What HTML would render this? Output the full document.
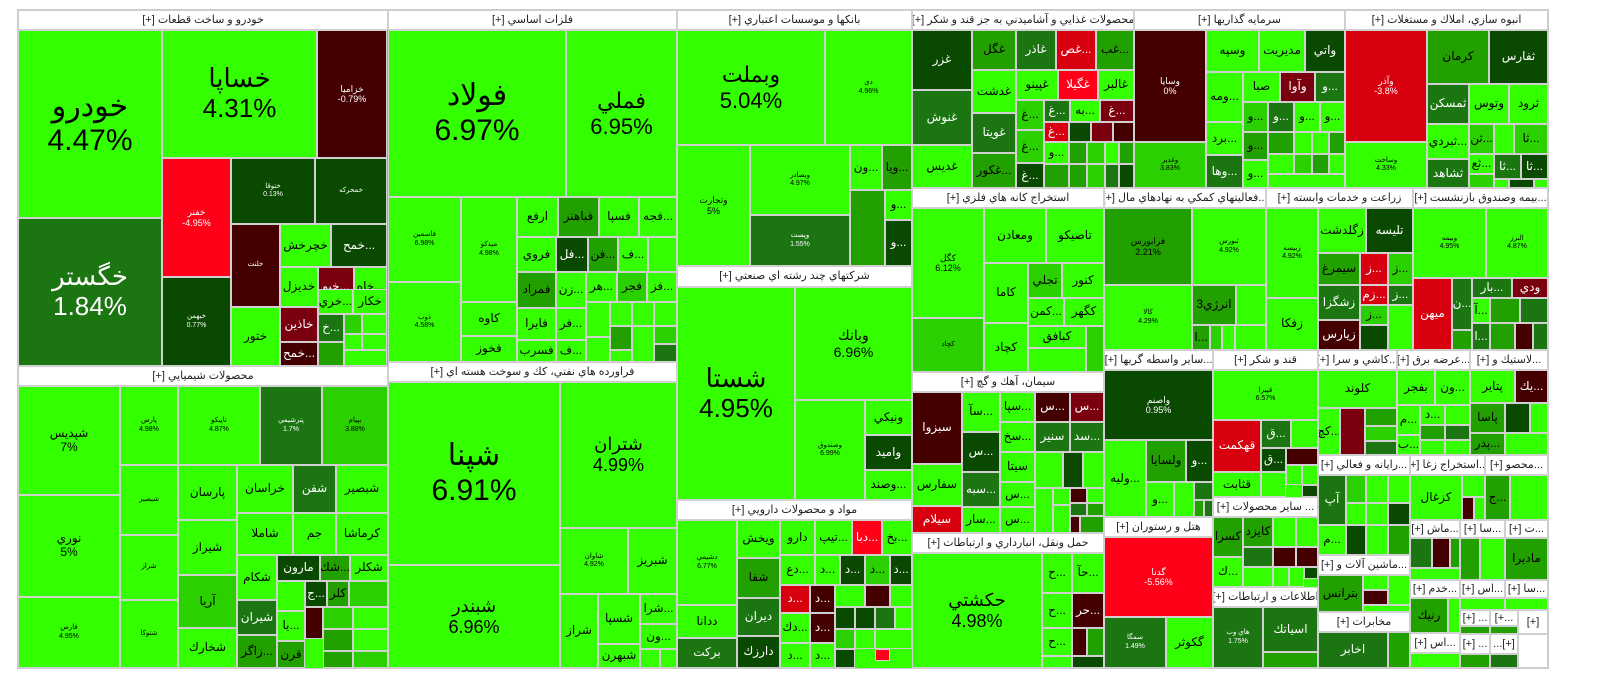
<!DOCTYPE html>
<html><head><meta charset="utf-8"><style>
body{margin:0;width:1600px;height:698px;background:#fff;position:relative;overflow:hidden;font-family:"Liberation Sans","DejaVu Sans","Noto Sans CJK SC",sans-serif;direction:ltr}
.t{position:absolute;box-sizing:border-box;border:1px solid #d0d0d0;display:flex;align-items:center;justify-content:center;text-align:center;overflow:hidden;font-size:12px;line-height:1.15;white-space:nowrap;color:#000;direction:ltr}
.h{background:#fff;font-size:11px;color:#222;direction:rtl}
.g1{background:#33ff00}.g2{background:#2ad000}.g3{background:#22a000}.g4{background:#1b7510;color:#fff}.g5{background:#0a4a00;color:#fff}
.r1{background:#ff0018;color:#fff}.r2{background:#d8000f;color:#fff}.r3{background:#7a0010;color:#fff}.r4{background:#440000;color:#fff}
.tiny{font-size:7px}.sm{font-size:9px}
.b30{font-size:30px}.b26{font-size:26px}.b22{font-size:22px}.b18{font-size:18px}.b14{font-size:14px}
</style></head><body>
<div class="t" style="left:17px;top:9px;width:1532px;height:660px;border-color:#ccc;background:#33ff00"></div>

<!-- خودرو -->
<div class="t h" style="left:18px;top:10px;width:370px;height:20px">خودرو و ساخت قطعات [+]</div>
<div class="t g1 b30" style="left:18px;top:30px;width:144px;height:188px">خودرو<br>4.47%</div>
<div class="t g4 b26" style="left:18px;top:218px;width:144px;height:148px">خگستر<br>1.84%</div>
<div class="t g1 b26" style="left:162px;top:30px;width:155px;height:128px">خساپا<br>4.31%</div>
<div class="t r4 sm" style="left:317px;top:30px;width:70px;height:128px">خزامیا<br>-0.79%</div>
<div class="t r1 sm" style="left:162px;top:158px;width:69px;height:119px">خفنر<br>-4.95%</div>
<div class="t g5 tiny" style="left:231px;top:158px;width:84px;height:66px">ختوقا<br>0.13%</div>
<div class="t g5 tiny" style="left:315px;top:158px;width:72px;height:66px">خمحرکه</div>
<div class="t g5 tiny" style="left:162px;top:277px;width:69px;height:89px">خبهمن<br>0.77%</div>
<div class="t r4 tiny" style="left:231px;top:224px;width:49px;height:83px">خلنت</div>
<div class="t g1" style="left:280px;top:224px;width:51px;height:43px">خچرخش</div>
<div class="t g5" style="left:331px;top:224px;width:56px;height:43px">خمح...</div>
<div class="t g1" style="left:280px;top:267px;width:38px;height:40px">خديزل</div>
<div class="t r3" style="left:318px;top:267px;width:36px;height:40px">خبو...</div>
<div class="t g1" style="left:354px;top:267px;width:33px;height:40px">خاه...</div>
<div class="t g1" style="left:231px;top:307px;width:49px;height:59px">ختور</div>
<div class="t r3" style="left:280px;top:307px;width:38px;height:35px">خاذين</div>
<div class="t r4" style="left:280px;top:342px;width:38px;height:24px">خمح...</div>
<div class="t g1" style="left:318px;top:289px;width:35px;height:25px">خري...</div>
<div class="t g1" style="left:353px;top:289px;width:34px;height:25px">خكار</div>
<div class="t g4" style="left:318px;top:314px;width:26px;height:28px">خ...</div>
<div class="t g2" style="left:344px;top:314px;width:18px;height:20px"></div>
<div class="t g1" style="left:362px;top:314px;width:25px;height:20px"></div>
<div class="t g3" style="left:318px;top:342px;width:26px;height:24px"></div>
<div class="t g1" style="left:344px;top:334px;width:18px;height:16px"></div>
<div class="t g1" style="left:362px;top:334px;width:25px;height:16px"></div>
<div class="t g1" style="left:344px;top:350px;width:43px;height:16px"></div>

<!-- شیمیایی -->
<div class="t h" style="left:18px;top:366px;width:370px;height:20px">محصولات شيميايي [+]</div>
<div class="t g1" style="left:18px;top:386px;width:102px;height:109px">شپديس<br>7%</div>
<div class="t g1" style="left:18px;top:495px;width:102px;height:102px">نوري<br>5%</div>
<div class="t g1 tiny" style="left:18px;top:597px;width:102px;height:71px">فارس<br>4.95%</div>
<div class="t g1 tiny" style="left:120px;top:386px;width:58px;height:79px">پارس<br>4.98%</div>
<div class="t g1 tiny" style="left:178px;top:386px;width:82px;height:79px">تاپيكو<br>4.87%</div>
<div class="t g4 tiny" style="left:260px;top:386px;width:62px;height:79px">پترشيمي<br>1.7%</div>
<div class="t g2 tiny" style="left:322px;top:386px;width:66px;height:79px">بپیام<br>3.88%</div>
<div class="t g1 tiny" style="left:120px;top:465px;width:58px;height:70px">شبصير</div>
<div class="t g1 tiny" style="left:120px;top:535px;width:58px;height:65px">شراز</div>
<div class="t g1 tiny" style="left:120px;top:600px;width:58px;height:68px">شتوكا</div>
<div class="t g1" style="left:178px;top:465px;width:59px;height:55px">پارسان</div>
<div class="t g1" style="left:178px;top:520px;width:59px;height:55px">شيراز</div>
<div class="t g2" style="left:178px;top:575px;width:59px;height:53px">آريا</div>
<div class="t g1" style="left:178px;top:628px;width:59px;height:40px">شخارك</div>
<div class="t g1" style="left:237px;top:465px;width:56px;height:48px">خراسان</div>
<div class="t g4" style="left:293px;top:465px;width:43px;height:48px">شفن</div>
<div class="t g1" style="left:336px;top:465px;width:52px;height:48px">شبصير</div>
<div class="t g1" style="left:237px;top:513px;width:56px;height:42px">شاملا</div>
<div class="t g1" style="left:293px;top:513px;width:43px;height:42px">جم</div>
<div class="t g1" style="left:336px;top:513px;width:52px;height:42px">كرماشا</div>
<div class="t g1" style="left:237px;top:555px;width:40px;height:45px">شكام</div>
<div class="t g5" style="left:277px;top:555px;width:43px;height:26px">مارون</div>
<div class="t g3" style="left:320px;top:555px;width:30px;height:26px">شك...</div>
<div class="t g1" style="left:350px;top:555px;width:38px;height:26px">شكلر</div>
<div class="t g4" style="left:237px;top:600px;width:40px;height:35px">شيران</div>
<div class="t g3" style="left:237px;top:635px;width:40px;height:33px">زاگر...</div>
<div class="t g1" style="left:277px;top:581px;width:28px;height:30px"></div>
<div class="t g5" style="left:305px;top:581px;width:22px;height:26px">ج...</div>
<div class="t g3" style="left:327px;top:581px;width:22px;height:26px">كلر</div>
<div class="t g2" style="left:349px;top:581px;width:39px;height:26px"></div>
<div class="t g1" style="left:277px;top:611px;width:28px;height:30px">يا...</div>
<div class="t g3" style="left:277px;top:641px;width:28px;height:27px">قرن</div>
<div class="t r4" style="left:305px;top:607px;width:18px;height:32px"></div>
<div class="t g2" style="left:323px;top:607px;width:30px;height:22px"></div>
<div class="t g1" style="left:353px;top:607px;width:35px;height:22px"></div>
<div class="t g3" style="left:323px;top:629px;width:30px;height:22px"></div>
<div class="t g1" style="left:353px;top:629px;width:35px;height:22px"></div>
<div class="t g3" style="left:323px;top:651px;width:30px;height:17px"></div>
<div class="t g2" style="left:353px;top:651px;width:35px;height:17px"></div>

<!-- فلزات -->
<div class="t h" style="left:388px;top:10px;width:289px;height:20px">فلزات اساسي [+]</div>
<div class="t g1 b30" style="left:388px;top:30px;width:178px;height:167px">فولاد<br>6.97%</div>
<div class="t g1 b22" style="left:566px;top:30px;width:111px;height:167px">فملي<br>6.95%</div>
<div class="t g1 tiny" style="left:388px;top:197px;width:73px;height:85px">فاسمين<br>6.98%</div>
<div class="t g1 tiny" style="left:388px;top:282px;width:73px;height:80px">ذوب<br>4.58%</div>
<div class="t g1 tiny" style="left:461px;top:197px;width:56px;height:105px">ميدكو<br>4.98%</div>
<div class="t g1" style="left:461px;top:302px;width:56px;height:34px">كاوه</div>
<div class="t g1" style="left:461px;top:336px;width:56px;height:26px">فخوز</div>
<div class="t g1" style="left:517px;top:197px;width:41px;height:40px">ارفع</div>
<div class="t g3" style="left:558px;top:197px;width:41px;height:40px">فباهنر</div>
<div class="t g1" style="left:599px;top:197px;width:40px;height:40px">فسپا</div>
<div class="t g1" style="left:639px;top:197px;width:38px;height:40px">فجه...</div>
<div class="t g1" style="left:517px;top:237px;width:39px;height:35px">فروي</div>
<div class="t g5" style="left:556px;top:237px;width:32px;height:35px">فل...</div>
<div class="t g3" style="left:588px;top:237px;width:30px;height:35px">فن...</div>
<div class="t g1" style="left:618px;top:237px;width:30px;height:35px">ف...</div>
<div class="t g1" style="left:648px;top:237px;width:29px;height:35px"></div>
<div class="t g3" style="left:517px;top:272px;width:39px;height:36px">فمراد</div>
<div class="t g1" style="left:556px;top:272px;width:30px;height:36px">زن...</div>
<div class="t g1" style="left:586px;top:272px;width:31px;height:30px">هر...</div>
<div class="t g2" style="left:617px;top:272px;width:30px;height:30px">فجر</div>
<div class="t g1" style="left:647px;top:272px;width:30px;height:30px">فز...</div>
<div class="t g1" style="left:517px;top:308px;width:39px;height:32px">فايرا</div>
<div class="t g1" style="left:517px;top:340px;width:39px;height:22px">فسرب</div>
<div class="t g1" style="left:556px;top:308px;width:30px;height:32px">فر...</div>
<div class="t g1" style="left:556px;top:340px;width:30px;height:22px">ف...</div>
<div class="t g1" style="left:586px;top:302px;width:24px;height:35px"></div>
<div class="t g1" style="left:610px;top:302px;width:22px;height:24px"></div>
<div class="t g3" style="left:610px;top:326px;width:22px;height:24px"></div>
<div class="t g1" style="left:632px;top:302px;width:22px;height:24px"></div>
<div class="t g1" style="left:654px;top:302px;width:23px;height:24px"></div>
<div class="t g1" style="left:632px;top:326px;width:22px;height:36px"></div>
<div class="t g2" style="left:654px;top:326px;width:23px;height:18px"></div>
<div class="t g4" style="left:654px;top:344px;width:23px;height:18px"></div>
<div class="t g1" style="left:586px;top:337px;width:24px;height:25px"></div>
<div class="t g1" style="left:610px;top:350px;width:22px;height:12px"></div>

<!-- فراورده -->
<div class="t h" style="left:388px;top:362px;width:289px;height:20px">فراورده هاي نفتي، كك و سوخت هسته اي [+]</div>
<div class="t g1 b30" style="left:388px;top:382px;width:172px;height:183px">شپنا<br>6.91%</div>
<div class="t g1 b18" style="left:388px;top:565px;width:172px;height:103px">شبندر<br>6.96%</div>
<div class="t g1 b18" style="left:560px;top:382px;width:117px;height:146px">شتران<br>4.99%</div>
<div class="t g1 tiny" style="left:560px;top:528px;width:68px;height:66px">شاوان<br>4.92%</div>
<div class="t g1" style="left:628px;top:528px;width:49px;height:66px">شبريز</div>
<div class="t g1" style="left:560px;top:594px;width:38px;height:74px">شراز</div>
<div class="t g1" style="left:598px;top:594px;width:42px;height:50px">شسپا</div>
<div class="t g1" style="left:598px;top:644px;width:42px;height:24px">شبهرن</div>
<div class="t g1" style="left:640px;top:594px;width:37px;height:30px">شرا...</div>
<div class="t g1" style="left:640px;top:624px;width:37px;height:25px">ون...</div>
<div class="t g1" style="left:640px;top:649px;width:20px;height:19px"></div>
<div class="t g1" style="left:660px;top:649px;width:17px;height:19px"></div>

<!-- بانکها -->
<div class="t h" style="left:677px;top:10px;width:235px;height:20px">بانكها و موسسات اعتباري [+]</div>
<div class="t g1 b22" style="left:677px;top:30px;width:148px;height:115px">وبملت<br>5.04%</div>
<div class="t g1 tiny" style="left:825px;top:30px;width:87px;height:115px">دي<br>4.96%</div>
<div class="t g1 sm" style="left:677px;top:145px;width:73px;height:121px">وتجارت<br>5%</div>
<div class="t g1 tiny" style="left:750px;top:145px;width:100px;height:70px">وبصادر<br>4.97%</div>
<div class="t g4 tiny" style="left:750px;top:215px;width:100px;height:51px">وپست<br>1.55%</div>
<div class="t g1" style="left:850px;top:145px;width:32px;height:45px">ون...</div>
<div class="t g3" style="left:882px;top:145px;width:30px;height:45px">ويا...</div>
<div class="t g3" style="left:850px;top:190px;width:35px;height:76px"></div>
<div class="t g1" style="left:885px;top:190px;width:27px;height:30px">و...</div>
<div class="t g5" style="left:885px;top:220px;width:27px;height:46px">و...</div>

<!-- چند رشته -->
<div class="t h" style="left:677px;top:266px;width:235px;height:21px">شركتهاي چند رشته اي صنعتي [+]</div>
<div class="t g1 b26" style="left:677px;top:287px;width:118px;height:213px">شستا<br>4.95%</div>
<div class="t g1 b14" style="left:795px;top:287px;width:117px;height:113px">وبانك<br>6.96%</div>
<div class="t g1 tiny" style="left:795px;top:400px;width:70px;height:100px">وصندوق<br>6.99%</div>
<div class="t g1" style="left:865px;top:400px;width:47px;height:35px">ونيكي</div>
<div class="t g5" style="left:865px;top:435px;width:47px;height:35px">واميد</div>
<div class="t g1" style="left:865px;top:470px;width:47px;height:30px">وصند...</div>

<!-- دارویی -->
<div class="t h" style="left:677px;top:500px;width:235px;height:20px">مواد و محصولات دارويي [+]</div>
<div class="t g1 tiny" style="left:677px;top:520px;width:60px;height:85px">دشيمي<br>6.77%</div>
<div class="t g1" style="left:677px;top:605px;width:60px;height:33px">ددانا</div>
<div class="t g4" style="left:677px;top:638px;width:60px;height:30px">بركت</div>
<div class="t g1" style="left:737px;top:520px;width:43px;height:38px">ويخش</div>
<div class="t g3" style="left:737px;top:558px;width:43px;height:40px">شفا</div>
<div class="t g4" style="left:737px;top:598px;width:43px;height:38px">ديران</div>
<div class="t g5" style="left:737px;top:636px;width:43px;height:32px">دارزك</div>
<div class="t g1" style="left:780px;top:520px;width:35px;height:35px">دارو</div>
<div class="t g1" style="left:815px;top:520px;width:37px;height:35px">تيپ...</div>
<div class="t r1" style="left:852px;top:520px;width:30px;height:35px">دبا...</div>
<div class="t g1" style="left:882px;top:520px;width:30px;height:35px">بخ...</div>
<div class="t g1" style="left:780px;top:555px;width:35px;height:30px">دع...</div>
<div class="t g1" style="left:815px;top:555px;width:25px;height:30px">د...</div>
<div class="t g5" style="left:840px;top:555px;width:25px;height:30px">د...</div>
<div class="t g2" style="left:865px;top:555px;width:25px;height:30px">د...</div>
<div class="t g5" style="left:890px;top:555px;width:22px;height:30px">د...</div>
<div class="t r2" style="left:780px;top:585px;width:30px;height:28px">د...</div>
<div class="t r4" style="left:810px;top:585px;width:25px;height:28px">د...</div>
<div class="t g1" style="left:835px;top:585px;width:30px;height:22px"></div>
<div class="t r4" style="left:865px;top:585px;width:25px;height:22px"></div>
<div class="t g1" style="left:890px;top:585px;width:22px;height:22px"></div>
<div class="t g1" style="left:780px;top:613px;width:30px;height:30px">دك...</div>
<div class="t r4" style="left:810px;top:613px;width:25px;height:30px">د...</div>
<div class="t g5" style="left:835px;top:607px;width:20px;height:22px"></div>
<div class="t g5" style="left:855px;top:607px;width:20px;height:22px"></div>
<div class="t g4" style="left:875px;top:607px;width:20px;height:22px"></div>
<div class="t g1" style="left:895px;top:607px;width:17px;height:22px"></div>
<div class="t g2" style="left:835px;top:629px;width:20px;height:20px"></div>
<div class="t g1" style="left:855px;top:629px;width:20px;height:20px"></div>
<div class="t g1" style="left:875px;top:629px;width:37px;height:20px"></div>
<div class="t g5" style="left:835px;top:649px;width:20px;height:19px"></div>
<div class="t r1" style="left:875px;top:649px;width:15px;height:12px"></div>
<div class="t g1" style="left:780px;top:643px;width:30px;height:25px">د...</div>
<div class="t g1" style="left:810px;top:643px;width:25px;height:25px">د...</div>

<!-- غذایی -->
<div class="t h" style="left:912px;top:10px;width:222px;height:20px">محصولات غذايي و آشاميدني به جز قند و شكر [+]</div>
<div class="t g5" style="left:912px;top:30px;width:60px;height:60px">غزر</div>
<div class="t g4" style="left:912px;top:90px;width:60px;height:55px">غنوش</div>
<div class="t g1" style="left:912px;top:145px;width:60px;height:43px">غديس</div>
<div class="t g3" style="left:972px;top:30px;width:44px;height:40px">غگل</div>
<div class="t g1" style="left:972px;top:70px;width:44px;height:43px">غدشت</div>
<div class="t g4" style="left:972px;top:113px;width:44px;height:40px">غويتا</div>
<div class="t g3" style="left:972px;top:153px;width:44px;height:35px">غكور...</div>
<div class="t g4" style="left:1016px;top:30px;width:40px;height:40px">غاذر</div>
<div class="t r2" style="left:1056px;top:30px;width:40px;height:40px">غص...</div>
<div class="t g3" style="left:1096px;top:30px;width:38px;height:40px">غب...</div>
<div class="t g1" style="left:1016px;top:70px;width:42px;height:30px">غپينو</div>
<div class="t r1" style="left:1058px;top:70px;width:40px;height:30px">غگيلا</div>
<div class="t g1" style="left:1098px;top:70px;width:36px;height:30px">غالبر</div>
<div class="t g2" style="left:1016px;top:100px;width:28px;height:30px">غ...</div>
<div class="t g4" style="left:1044px;top:100px;width:26px;height:22px">غ...</div>
<div class="t g1" style="left:1070px;top:100px;width:30px;height:22px">به...</div>
<div class="t r3" style="left:1100px;top:100px;width:34px;height:22px">غ...</div>
<div class="t r2" style="left:1044px;top:122px;width:25px;height:20px">غ...</div>
<div class="t g5" style="left:1069px;top:122px;width:22px;height:20px"></div>
<div class="t r3" style="left:1091px;top:122px;width:22px;height:20px"></div>
<div class="t r4" style="left:1113px;top:122px;width:21px;height:20px"></div>
<div class="t g2" style="left:1016px;top:130px;width:28px;height:33px">غ...</div>
<div class="t g5" style="left:1016px;top:163px;width:28px;height:25px">غ...</div>
<div class="t g1" style="left:1044px;top:142px;width:25px;height:22px">و...</div>
<div class="t g3" style="left:1069px;top:142px;width:18px;height:22px"></div>
<div class="t g2" style="left:1087px;top:142px;width:18px;height:22px"></div>
<div class="t g1" style="left:1105px;top:142px;width:14px;height:22px"></div>
<div class="t g3" style="left:1119px;top:142px;width:15px;height:22px"></div>
<div class="t g3" style="left:1044px;top:164px;width:25px;height:24px"></div>
<div class="t g3" style="left:1069px;top:164px;width:18px;height:24px"></div>
<div class="t g2" style="left:1087px;top:164px;width:18px;height:24px"></div>
<div class="t g4" style="left:1105px;top:164px;width:14px;height:24px"></div>
<div class="t g5" style="left:1119px;top:164px;width:15px;height:24px"></div>

<!-- سرمایه -->
<div class="t h" style="left:1134px;top:10px;width:211px;height:20px">سرمايه گذاريها [+]</div>
<div class="t r4 sm" style="left:1134px;top:30px;width:72px;height:112px">وسايا<br>0%</div>
<div class="t g2 tiny" style="left:1134px;top:142px;width:72px;height:46px">وغدير<br>3.83%</div>
<div class="t g1" style="left:1206px;top:30px;width:53px;height:42px">وسپه</div>
<div class="t g1" style="left:1259px;top:30px;width:46px;height:42px">مديريت</div>
<div class="t g5" style="left:1305px;top:30px;width:40px;height:42px">واتي</div>
<div class="t g1" style="left:1206px;top:72px;width:37px;height:50px">ومه...</div>
<div class="t g1" style="left:1243px;top:72px;width:37px;height:30px">صبا</div>
<div class="t r3" style="left:1280px;top:72px;width:35px;height:30px">وآوا</div>
<div class="t g4" style="left:1315px;top:72px;width:30px;height:30px">و...</div>
<div class="t g1" style="left:1206px;top:122px;width:37px;height:33px">برد...</div>
<div class="t g4" style="left:1206px;top:155px;width:37px;height:33px">وها...</div>
<div class="t g2" style="left:1243px;top:102px;width:25px;height:30px">و...</div>
<div class="t g4" style="left:1268px;top:102px;width:26px;height:30px">و...</div>
<div class="t g1" style="left:1294px;top:102px;width:26px;height:30px">و...</div>
<div class="t g1" style="left:1320px;top:102px;width:25px;height:30px">و...</div>
<div class="t g3" style="left:1243px;top:132px;width:25px;height:28px">و...</div>
<div class="t g1" style="left:1243px;top:160px;width:25px;height:28px">و...</div>
<div class="t g3" style="left:1268px;top:132px;width:26px;height:22px"></div>
<div class="t g1" style="left:1294px;top:132px;width:18px;height:22px"></div>
<div class="t g1" style="left:1312px;top:132px;width:17px;height:22px"></div>
<div class="t g3" style="left:1329px;top:132px;width:16px;height:22px"></div>
<div class="t g1" style="left:1268px;top:154px;width:26px;height:20px"></div>
<div class="t g2" style="left:1294px;top:154px;width:18px;height:20px"></div>
<div class="t g3" style="left:1312px;top:154px;width:17px;height:20px"></div>
<div class="t g1" style="left:1329px;top:154px;width:16px;height:20px"></div>
<div class="t g1" style="left:1268px;top:174px;width:77px;height:14px"></div>

<!-- انبوه -->
<div class="t h" style="left:1345px;top:10px;width:203px;height:20px">انبوه سازي، املاك و مستغلات [+]</div>
<div class="t r2 sm" style="left:1345px;top:30px;width:82px;height:112px">وآذر<br>-3.8%</div>
<div class="t g1 tiny" style="left:1345px;top:142px;width:82px;height:46px">وساخت<br>4.33%</div>
<div class="t g3" style="left:1427px;top:30px;width:62px;height:54px">كرمان</div>
<div class="t g5" style="left:1489px;top:30px;width:59px;height:54px">ثفارس</div>
<div class="t g4" style="left:1427px;top:84px;width:42px;height:40px">ثمسكن</div>
<div class="t g1" style="left:1469px;top:84px;width:40px;height:40px">وتوس</div>
<div class="t g1" style="left:1509px;top:84px;width:39px;height:40px">ثرود</div>
<div class="t g1" style="left:1427px;top:124px;width:42px;height:35px">ثبردي...</div>
<div class="t g4" style="left:1427px;top:159px;width:42px;height:29px">ثشاهد</div>
<div class="t g2" style="left:1469px;top:124px;width:25px;height:30px">ثن...</div>
<div class="t g1" style="left:1494px;top:124px;width:20px;height:30px"></div>
<div class="t g2" style="left:1514px;top:124px;width:34px;height:30px">ثا...</div>
<div class="t g1" style="left:1469px;top:154px;width:25px;height:20px">ثع...</div>
<div class="t g4" style="left:1494px;top:154px;width:27px;height:25px">ثا...</div>
<div class="t g5" style="left:1521px;top:154px;width:27px;height:25px">ثا...</div>
<div class="t g2" style="left:1469px;top:174px;width:25px;height:14px"></div>
<div class="t g1" style="left:1494px;top:179px;width:15px;height:9px"></div>
<div class="t g5" style="left:1509px;top:179px;width:25px;height:9px"></div>
<div class="t g1" style="left:1534px;top:179px;width:14px;height:9px"></div>

<!-- استخراج فلزی -->
<div class="t h" style="left:912px;top:188px;width:192px;height:20px">استخراج كانه هاي فلزي [+]</div>
<div class="t g1 sm" style="left:912px;top:208px;width:72px;height:110px">كگل<br>6.12%</div>
<div class="t g2 tiny" style="left:912px;top:318px;width:72px;height:54px">كچاد</div>
<div class="t g1" style="left:984px;top:208px;width:62px;height:55px">ومعادن</div>
<div class="t g1" style="left:1046px;top:208px;width:58px;height:55px">تاصيكو</div>
<div class="t g1" style="left:984px;top:263px;width:44px;height:60px">كاما</div>
<div class="t g1" style="left:984px;top:323px;width:44px;height:49px">كچاد</div>
<div class="t g2" style="left:1028px;top:263px;width:34px;height:35px">تجلي</div>
<div class="t g1" style="left:1062px;top:263px;width:42px;height:35px">كنور</div>
<div class="t g1" style="left:1028px;top:298px;width:36px;height:28px">كمن...</div>
<div class="t g1" style="left:1064px;top:298px;width:40px;height:28px">كگهر</div>
<div class="t g1" style="left:1028px;top:326px;width:58px;height:22px">كبافق</div>
<div class="t g2" style="left:1086px;top:326px;width:18px;height:46px"></div>
<div class="t g1" style="left:1028px;top:348px;width:58px;height:24px"></div>

<!-- فعالیتهای کمکی -->
<div class="t h" style="left:1104px;top:188px;width:162px;height:20px">...فعاليتهاي كمكي به نهادهاي مال [+]</div>
<div class="t g3 sm" style="left:1104px;top:208px;width:88px;height:77px">فرابورس<br>2.21%</div>
<div class="t g1 tiny" style="left:1192px;top:208px;width:74px;height:77px">ثبورس<br>4.92%</div>
<div class="t g1 tiny" style="left:1104px;top:285px;width:88px;height:65px">كالا<br>4.29%</div>
<div class="t g3" style="left:1192px;top:285px;width:44px;height:40px">انرژي3</div>
<div class="t g1" style="left:1236px;top:285px;width:30px;height:40px"></div>
<div class="t g3" style="left:1192px;top:325px;width:18px;height:25px">ا...</div>
<div class="t g2" style="left:1210px;top:325px;width:12px;height:25px"></div>
<div class="t g1" style="left:1222px;top:325px;width:13px;height:25px"></div>
<div class="t g1" style="left:1235px;top:325px;width:31px;height:25px"></div>

<!-- زراعت -->
<div class="t h" style="left:1266px;top:188px;width:147px;height:20px">زراعت و خدمات وابسته [+]</div>
<div class="t g1 tiny" style="left:1266px;top:208px;width:52px;height:90px">زبيسه<br>4.92%</div>
<div class="t g1" style="left:1266px;top:298px;width:52px;height:52px">زفكا</div>
<div class="t g1" style="left:1318px;top:208px;width:48px;height:45px">زگلدشت</div>
<div class="t g5" style="left:1366px;top:208px;width:47px;height:45px">تليسه</div>
<div class="t g3" style="left:1318px;top:253px;width:42px;height:32px">سيمرغ</div>
<div class="t r2" style="left:1360px;top:253px;width:28px;height:32px">ز...</div>
<div class="t g2" style="left:1388px;top:253px;width:25px;height:32px">ز...</div>
<div class="t g4" style="left:1318px;top:285px;width:42px;height:35px">زشگزا</div>
<div class="t r2" style="left:1360px;top:285px;width:28px;height:20px">زم...</div>
<div class="t g4" style="left:1388px;top:285px;width:25px;height:20px">ز...</div>
<div class="t r4" style="left:1318px;top:320px;width:42px;height:30px">زيارس</div>
<div class="t g2" style="left:1360px;top:305px;width:28px;height:20px">ز...</div>
<div class="t g5" style="left:1360px;top:325px;width:28px;height:25px"></div>
<div class="t g1" style="left:1388px;top:305px;width:25px;height:45px"></div>

<!-- بیمه -->
<div class="t h" style="left:1413px;top:188px;width:135px;height:20px">...بيمه وصندوق بازنشست [+]</div>
<div class="t g1 tiny" style="left:1413px;top:208px;width:73px;height:70px">وبيمه<br>4.95%</div>
<div class="t g1 tiny" style="left:1486px;top:208px;width:62px;height:70px">البرز<br>4.87%</div>
<div class="t r2" style="left:1413px;top:278px;width:39px;height:72px">ميهن</div>
<div class="t g4" style="left:1452px;top:278px;width:20px;height:52px">ن...</div>
<div class="t g3" style="left:1452px;top:330px;width:20px;height:20px"></div>
<div class="t g4" style="left:1472px;top:278px;width:40px;height:20px">بار...</div>
<div class="t r3" style="left:1512px;top:278px;width:36px;height:20px">ودي</div>
<div class="t g1" style="left:1472px;top:298px;width:18px;height:25px">آ...</div>
<div class="t g3" style="left:1490px;top:298px;width:30px;height:25px"></div>
<div class="t g4" style="left:1520px;top:298px;width:28px;height:25px"></div>
<div class="t g4" style="left:1472px;top:323px;width:18px;height:27px">ا...</div>
<div class="t g3" style="left:1490px;top:323px;width:25px;height:27px"></div>
<div class="t r4" style="left:1515px;top:323px;width:18px;height:27px"></div>
<div class="t g4" style="left:1533px;top:323px;width:15px;height:27px"></div>

<!-- سیمان -->
<div class="t h" style="left:912px;top:372px;width:192px;height:20px">سيمان، آهك و گچ [+]</div>
<div class="t r4" style="left:912px;top:392px;width:50px;height:72px">سبزوا</div>
<div class="t g1" style="left:912px;top:464px;width:50px;height:42px">سفارس</div>
<div class="t r2" style="left:912px;top:506px;width:50px;height:27px">سيلام</div>
<div class="t g1" style="left:962px;top:392px;width:38px;height:40px">سآ...</div>
<div class="t g5" style="left:962px;top:432px;width:38px;height:40px">س...</div>
<div class="t g4" style="left:962px;top:472px;width:38px;height:35px">سبه...</div>
<div class="t g1" style="left:962px;top:507px;width:38px;height:26px">سار...</div>
<div class="t g1" style="left:1000px;top:392px;width:35px;height:30px">سپا...</div>
<div class="t r4" style="left:1035px;top:392px;width:35px;height:30px">س...</div>
<div class="t r3" style="left:1070px;top:392px;width:34px;height:30px">س...</div>
<div class="t g1" style="left:1000px;top:422px;width:35px;height:30px">سخ...</div>
<div class="t g4" style="left:1035px;top:422px;width:35px;height:30px">سنير</div>
<div class="t g4" style="left:1070px;top:422px;width:34px;height:30px">سد...</div>
<div class="t g1" style="left:1000px;top:452px;width:35px;height:30px">سيتا</div>
<div class="t g1" style="left:1000px;top:482px;width:35px;height:25px">س...</div>
<div class="t g1" style="left:1000px;top:507px;width:35px;height:26px">س...</div>
<div class="t g1" style="left:1035px;top:452px;width:28px;height:36px"></div>
<div class="t g5" style="left:1063px;top:452px;width:20px;height:36px"></div>
<div class="t g1" style="left:1083px;top:452px;width:21px;height:36px"></div>
<div class="t g1" style="left:1035px;top:488px;width:18px;height:45px"></div>
<div class="t g1" style="left:1053px;top:488px;width:17px;height:17px"></div>
<div class="t r4" style="left:1070px;top:488px;width:17px;height:15px"></div>
<div class="t g1" style="left:1087px;top:488px;width:17px;height:15px"></div>
<div class="t g4" style="left:1070px;top:503px;width:17px;height:13px"></div>
<div class="t g3" style="left:1087px;top:503px;width:17px;height:13px"></div>
<div class="t g1" style="left:1053px;top:505px;width:17px;height:28px"></div>
<div class="t r4" style="left:1070px;top:516px;width:10px;height:17px"></div>
<div class="t g3" style="left:1080px;top:516px;width:24px;height:17px"></div>

<!-- حمل و نقل -->
<div class="t h" style="left:912px;top:533px;width:192px;height:20px">حمل ونقل، انبارداري و ارتباطات [+]</div>
<div class="t g1 b18" style="left:912px;top:553px;width:130px;height:115px">حكشتي<br>4.98%</div>
<div class="t g1" style="left:1042px;top:553px;width:30px;height:40px">ح...</div>
<div class="t g1" style="left:1072px;top:553px;width:32px;height:40px">حآ...</div>
<div class="t g1" style="left:1042px;top:593px;width:30px;height:35px">ح...</div>
<div class="t r4" style="left:1072px;top:593px;width:32px;height:35px">حر...</div>
<div class="t g1" style="left:1042px;top:628px;width:30px;height:28px">ح...</div>
<div class="t r4" style="left:1072px;top:628px;width:15px;height:28px"></div>
<div class="t g3" style="left:1087px;top:628px;width:17px;height:28px"></div>
<div class="t g1" style="left:1042px;top:656px;width:30px;height:12px"></div>
<div class="t g5" style="left:1072px;top:656px;width:32px;height:12px"></div>

<!-- سایر واسطه -->
<div class="t h" style="left:1104px;top:350px;width:109px;height:20px">...ساير واسطه گريها [+]</div>
<div class="t g5 sm" style="left:1104px;top:370px;width:109px;height:70px">واصنم<br>0.95%</div>
<div class="t g1" style="left:1104px;top:440px;width:42px;height:77px">وليه...</div>
<div class="t g3" style="left:1146px;top:440px;width:40px;height:42px">ولسايا</div>
<div class="t g5" style="left:1186px;top:440px;width:27px;height:42px">و...</div>
<div class="t g1" style="left:1146px;top:482px;width:28px;height:35px">و...</div>
<div class="t g1" style="left:1174px;top:482px;width:20px;height:35px"></div>
<div class="t g4" style="left:1194px;top:482px;width:19px;height:18px"></div>
<div class="t g3" style="left:1194px;top:500px;width:10px;height:17px"></div>
<div class="t g4" style="left:1204px;top:500px;width:9px;height:17px"></div>

<!-- هتل -->
<div class="t h" style="left:1104px;top:517px;width:109px;height:20px">هتل و رستوران [+]</div>
<div class="t r1 sm" style="left:1104px;top:537px;width:109px;height:80px">گدنا<br>-5.56%</div>
<div class="t g4 tiny" style="left:1104px;top:617px;width:62px;height:51px">سمگا<br>1.49%</div>
<div class="t g1" style="left:1166px;top:617px;width:47px;height:51px">گكوثر</div>

<!-- قند -->
<div class="t h" style="left:1213px;top:350px;width:105px;height:20px">قند و شكر [+]</div>
<div class="t g1 tiny" style="left:1213px;top:370px;width:105px;height:50px">قپيرا<br>6.57%</div>
<div class="t r2" style="left:1213px;top:420px;width:48px;height:52px">قهكمت</div>
<div class="t g1" style="left:1213px;top:472px;width:48px;height:25px">قثابت</div>
<div class="t g4" style="left:1261px;top:420px;width:30px;height:28px">ق...</div>
<div class="t g1" style="left:1291px;top:420px;width:27px;height:28px"></div>
<div class="t g5" style="left:1261px;top:448px;width:25px;height:24px">ق...</div>
<div class="t r4" style="left:1286px;top:448px;width:32px;height:17px"></div>
<div class="t g1" style="left:1261px;top:472px;width:25px;height:25px"></div>
<div class="t g1" style="left:1286px;top:465px;width:16px;height:20px"></div>
<div class="t g1" style="left:1302px;top:465px;width:16px;height:20px"></div>
<div class="t g5" style="left:1302px;top:485px;width:16px;height:12px"></div>

<!-- سایر محصولات -->
<div class="t h" style="left:1213px;top:497px;width:105px;height:20px">... ساير محصولات [+]</div>
<div class="t g3" style="left:1213px;top:517px;width:30px;height:40px">كسرا</div>
<div class="t g3" style="left:1243px;top:517px;width:30px;height:30px">كايزد</div>
<div class="t g1" style="left:1273px;top:517px;width:23px;height:30px"></div>
<div class="t g1" style="left:1296px;top:517px;width:22px;height:30px"></div>
<div class="t g1" style="left:1213px;top:557px;width:30px;height:30px">ك...</div>
<div class="t g4" style="left:1243px;top:547px;width:30px;height:20px"></div>
<div class="t r4" style="left:1273px;top:547px;width:23px;height:20px"></div>
<div class="t r4" style="left:1296px;top:547px;width:22px;height:20px"></div>
<div class="t g1" style="left:1243px;top:567px;width:30px;height:20px"></div>
<div class="t g1" style="left:1273px;top:567px;width:16px;height:20px"></div>
<div class="t g1" style="left:1289px;top:567px;width:15px;height:20px"></div>
<div class="t g5" style="left:1304px;top:567px;width:14px;height:12px"></div>

<!-- اطلاعات -->
<div class="t h" style="left:1213px;top:587px;width:105px;height:20px">اطلاعات و ارتباطات [+]</div>
<div class="t g4 tiny" style="left:1213px;top:607px;width:50px;height:61px">هاي وب<br>1.75%</div>
<div class="t g4" style="left:1263px;top:607px;width:55px;height:45px">اسياتك</div>
<div class="t g3" style="left:1263px;top:652px;width:55px;height:16px"></div>

<!-- small right sectors -->
<div class="t h" style="left:1318px;top:350px;width:79px;height:20px">...كاشي و سرا [+]</div>
<div class="t g1" style="left:1318px;top:370px;width:79px;height:38px">كلوند</div>
<div class="t g1" style="left:1318px;top:408px;width:22px;height:47px">كچ...</div>
<div class="t r3" style="left:1340px;top:408px;width:25px;height:47px"></div>
<div class="t g3" style="left:1365px;top:408px;width:32px;height:18px"></div>
<div class="t g2" style="left:1365px;top:426px;width:32px;height:15px"></div>
<div class="t g4" style="left:1365px;top:441px;width:32px;height:14px"></div>

<div class="t h" style="left:1397px;top:350px;width:73px;height:20px">...عرضه برق [+]</div>
<div class="t g1" style="left:1397px;top:370px;width:38px;height:35px">بفجر</div>
<div class="t g1" style="left:1435px;top:370px;width:35px;height:35px">ون...</div>
<div class="t g1" style="left:1397px;top:405px;width:23px;height:30px">م...</div>
<div class="t g1" style="left:1397px;top:435px;width:23px;height:20px">ب...</div>
<div class="t g1" style="left:1420px;top:405px;width:25px;height:20px">د...</div>
<div class="t g1" style="left:1445px;top:405px;width:25px;height:20px"></div>
<div class="t g3" style="left:1420px;top:425px;width:25px;height:15px"></div>
<div class="t g4" style="left:1445px;top:425px;width:25px;height:15px"></div>
<div class="t g1" style="left:1420px;top:440px;width:25px;height:15px"></div>
<div class="t g1" style="left:1445px;top:440px;width:25px;height:15px"></div>

<div class="t h" style="left:1470px;top:350px;width:78px;height:20px">...لاستيك و [+]</div>
<div class="t g1" style="left:1470px;top:370px;width:45px;height:33px">پتاير</div>
<div class="t r4" style="left:1515px;top:370px;width:33px;height:33px">يك...</div>
<div class="t g3" style="left:1470px;top:403px;width:35px;height:30px">پاسا</div>
<div class="t g5" style="left:1505px;top:403px;width:25px;height:30px"></div>
<div class="t g1" style="left:1530px;top:403px;width:18px;height:30px"></div>
<div class="t g3" style="left:1470px;top:433px;width:35px;height:22px">پدر...</div>
<div class="t g1" style="left:1505px;top:433px;width:43px;height:22px"></div>

<div class="t h" style="left:1318px;top:455px;width:92px;height:20px">...رايانه و فعالي [+]</div>
<div class="t g4" style="left:1318px;top:475px;width:28px;height:50px">آپ</div>
<div class="t g1" style="left:1318px;top:525px;width:28px;height:30px">م...</div>
<div class="t g2" style="left:1346px;top:475px;width:20px;height:28px"></div>
<div class="t g1" style="left:1366px;top:475px;width:22px;height:28px"></div>
<div class="t g1" style="left:1388px;top:475px;width:22px;height:28px"></div>
<div class="t g1" style="left:1346px;top:503px;width:20px;height:22px"></div>
<div class="t g1" style="left:1366px;top:503px;width:22px;height:22px"></div>
<div class="t g5" style="left:1388px;top:503px;width:22px;height:22px"></div>
<div class="t g5" style="left:1346px;top:525px;width:20px;height:30px"></div>
<div class="t g1" style="left:1366px;top:525px;width:22px;height:30px"></div>
<div class="t g3" style="left:1388px;top:525px;width:22px;height:30px"></div>

<div class="t h" style="left:1410px;top:455px;width:75px;height:20px">...استخراج زغا [+]</div>
<div class="t g1" style="left:1410px;top:475px;width:52px;height:45px">كزغال</div>
<div class="t g1" style="left:1462px;top:475px;width:23px;height:22px"></div>
<div class="t r4" style="left:1462px;top:497px;width:12px;height:23px"></div>
<div class="t g1" style="left:1474px;top:497px;width:11px;height:23px"></div>

<div class="t h" style="left:1485px;top:455px;width:63px;height:20px">...محصو [+]</div>
<div class="t g3" style="left:1485px;top:475px;width:25px;height:45px">ج...</div>
<div class="t g1" style="left:1510px;top:475px;width:38px;height:45px"></div>

<div class="t h" style="left:1410px;top:520px;width:50px;height:18px">...ماش [+]</div>
<div class="t g4" style="left:1410px;top:538px;width:22px;height:30px"></div>
<div class="t r4" style="left:1432px;top:538px;width:18px;height:30px"></div>
<div class="t g3" style="left:1450px;top:538px;width:10px;height:30px"></div>
<div class="t g1" style="left:1410px;top:568px;width:50px;height:12px"></div>
<div class="t h" style="left:1460px;top:520px;width:45px;height:18px">...سا [+]</div>
<div class="t g3" style="left:1460px;top:538px;width:20px;height:42px"></div>
<div class="t g1" style="left:1480px;top:538px;width:25px;height:42px"></div>
<div class="t h" style="left:1505px;top:520px;width:43px;height:18px">...ت [+]</div>
<div class="t g3" style="left:1505px;top:538px;width:43px;height:42px">ماديرا</div>

<div class="t h" style="left:1318px;top:555px;width:92px;height:20px">...ماشين آلات و [+]</div>
<div class="t g3" style="left:1318px;top:575px;width:45px;height:37px">بترانس</div>
<div class="t g1" style="left:1363px;top:575px;width:25px;height:15px"></div>
<div class="t r4" style="left:1363px;top:590px;width:25px;height:15px"></div>
<div class="t g1" style="left:1388px;top:575px;width:22px;height:30px"></div>
<div class="t g1" style="left:1363px;top:605px;width:47px;height:7px"></div>

<div class="t h" style="left:1318px;top:612px;width:92px;height:20px">مخابرات [+]</div>
<div class="t g4" style="left:1318px;top:632px;width:70px;height:36px">اخابر</div>
<div class="t g3" style="left:1388px;top:632px;width:22px;height:36px"></div>

<div class="t h" style="left:1410px;top:580px;width:50px;height:18px">...خدم [+]</div>
<div class="t g3" style="left:1410px;top:598px;width:38px;height:35px">رنيك</div>
<div class="t g1" style="left:1448px;top:598px;width:12px;height:35px"></div>
<div class="t h" style="left:1460px;top:580px;width:45px;height:18px">...اس [+]</div>
<div class="t g1" style="left:1460px;top:598px;width:45px;height:12px"></div>
<div class="t h" style="left:1505px;top:580px;width:43px;height:18px">...سا [+]</div>
<div class="t g1" style="left:1505px;top:598px;width:43px;height:12px"></div>
<div class="t h" style="left:1460px;top:610px;width:30px;height:16px">... [+]</div>
<div class="t g3" style="left:1460px;top:626px;width:30px;height:8px"></div>
<div class="t h" style="left:1490px;top:610px;width:28px;height:16px">...+]</div>
<div class="t g3" style="left:1490px;top:626px;width:28px;height:8px"></div>
<div class="t h" style="left:1518px;top:610px;width:30px;height:24px">[+]</div>
<div class="t h" style="left:1410px;top:633px;width:50px;height:20px">...اس [+]</div>
<div class="t g1" style="left:1410px;top:653px;width:50px;height:15px"></div>
<div class="t h" style="left:1460px;top:634px;width:30px;height:20px">... [+]</div>
<div class="t g3" style="left:1460px;top:654px;width:30px;height:14px"></div>
<div class="t h" style="left:1490px;top:634px;width:28px;height:20px">[+]...</div>
<div class="t g4" style="left:1490px;top:654px;width:28px;height:14px"></div>
<div class="t h" style="left:1518px;top:634px;width:30px;height:34px"></div>
</body></html>
